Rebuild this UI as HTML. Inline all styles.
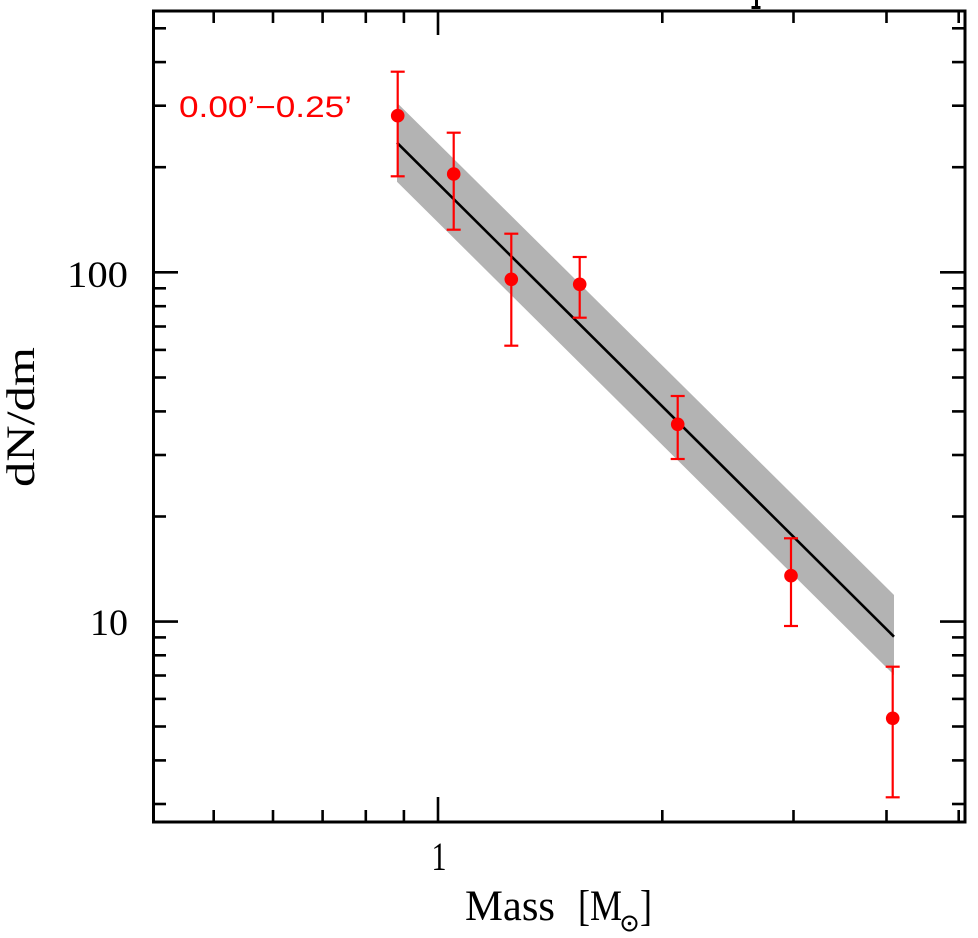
<!DOCTYPE html>
<html>
<head>
<meta charset="utf-8">
<style>
  html, body { margin:0; padding:0; background:#ffffff; }
  svg { display:block; }
</style>
</head>
<body>
<svg width="978" height="938" viewBox="0 0 978 938" xmlns="http://www.w3.org/2000/svg">
  <rect x="0" y="0" width="978" height="938" fill="#ffffff"/>

  <!-- title fragment at top -->
  <rect x="755" y="0" width="3" height="9" fill="#000"/>
  <rect x="751.5" y="6" width="9" height="3" fill="#000"/>

  <!-- band -->
  <polygon points="397,102.7 894,595 894,675 397,181.7" fill="#b3b3b3"/>
  <!-- fit line -->
  <line x1="397" y1="142.7" x2="894" y2="636.7" stroke="#000" stroke-width="2.6"/>

  <!-- error bars -->
  <g stroke="#ff0000" stroke-width="2.2" fill="none">
    <line x1="397.7" y1="71.7" x2="397.7" y2="176.3"/>
    <line x1="390.7" y1="71.7" x2="404.7" y2="71.7"/>
    <line x1="390.7" y1="176.3" x2="404.7" y2="176.3"/>

    <line x1="453.7" y1="132.7" x2="453.7" y2="229.7"/>
    <line x1="446.7" y1="132.7" x2="460.7" y2="132.7"/>
    <line x1="446.7" y1="229.7" x2="460.7" y2="229.7"/>

    <line x1="511.3" y1="233.7" x2="511.3" y2="345.7"/>
    <line x1="504.3" y1="233.7" x2="518.3" y2="233.7"/>
    <line x1="504.3" y1="345.7" x2="518.3" y2="345.7"/>

    <line x1="579.7" y1="257" x2="579.7" y2="317.7"/>
    <line x1="572.7" y1="257" x2="586.7" y2="257"/>
    <line x1="572.7" y1="317.7" x2="586.7" y2="317.7"/>

    <line x1="677.7" y1="396" x2="677.7" y2="459"/>
    <line x1="670.7" y1="396" x2="684.7" y2="396"/>
    <line x1="670.7" y1="459" x2="684.7" y2="459"/>

    <line x1="791" y1="538.3" x2="791" y2="626"/>
    <line x1="784" y1="538.3" x2="798" y2="538.3"/>
    <line x1="784" y1="626" x2="798" y2="626"/>

    <line x1="892.7" y1="666.7" x2="892.7" y2="797.3"/>
    <line x1="885.7" y1="666.7" x2="899.7" y2="666.7"/>
    <line x1="885.7" y1="797.3" x2="899.7" y2="797.3"/>
  </g>
  <g fill="#ff0000">
    <circle cx="397.7" cy="115.7" r="6.8"/>
    <circle cx="453.7" cy="174" r="6.8"/>
    <circle cx="511.3" cy="279.3" r="6.8"/>
    <circle cx="579.7" cy="284.3" r="6.8"/>
    <circle cx="677.7" cy="424.3" r="6.8"/>
    <circle cx="791" cy="575.7" r="6.8"/>
    <circle cx="892.7" cy="718.3" r="6.8"/>
  </g>

  <!-- ticks -->
  <g stroke="#000" stroke-width="2.6">
    <!-- bottom x ticks -->
    <line x1="213.7" y1="822" x2="213.7" y2="810"/>
    <line x1="273.0" y1="822" x2="273.0" y2="810"/>
    <line x1="322.6" y1="822" x2="322.6" y2="810"/>
    <line x1="365.8" y1="822" x2="365.8" y2="810"/>
    <line x1="403.9" y1="822" x2="403.9" y2="810"/>
    <line x1="438" y1="822" x2="438" y2="797"/>
    <line x1="662.3" y1="822" x2="662.3" y2="810"/>
    <line x1="793.5" y1="822" x2="793.5" y2="810"/>
    <line x1="886.5" y1="822" x2="886.5" y2="810"/>
    <line x1="958.7" y1="822" x2="958.7" y2="810"/>
    <!-- top x ticks -->
    <line x1="213.7" y1="11" x2="213.7" y2="23"/>
    <line x1="273.0" y1="11" x2="273.0" y2="23"/>
    <line x1="322.6" y1="11" x2="322.6" y2="23"/>
    <line x1="365.8" y1="11" x2="365.8" y2="23"/>
    <line x1="403.9" y1="11" x2="403.9" y2="23"/>
    <line x1="438" y1="11" x2="438" y2="35"/>
    <line x1="662.3" y1="11" x2="662.3" y2="23"/>
    <line x1="793.5" y1="11" x2="793.5" y2="23"/>
    <line x1="886.5" y1="11" x2="886.5" y2="23"/>
    <line x1="958.7" y1="11" x2="958.7" y2="23"/>

    <!-- left y ticks -->
    <line x1="153" y1="804.0" x2="166" y2="804.0"/>
    <line x1="153" y1="760.4" x2="166" y2="760.4"/>
    <line x1="153" y1="726.5" x2="166" y2="726.5"/>
    <line x1="153" y1="698.9" x2="166" y2="698.9"/>
    <line x1="153" y1="675.5" x2="166" y2="675.5"/>
    <line x1="153" y1="655.3" x2="166" y2="655.3"/>
    <line x1="153" y1="637.4" x2="166" y2="637.4"/>
    <line x1="153" y1="621.6" x2="178" y2="621.6"/>
    <line x1="153" y1="516.5" x2="166" y2="516.5"/>
    <line x1="153" y1="455.0" x2="166" y2="455.0"/>
    <line x1="153" y1="411.4" x2="166" y2="411.4"/>
    <line x1="153" y1="377.5" x2="166" y2="377.5"/>
    <line x1="153" y1="349.9" x2="166" y2="349.9"/>
    <line x1="153" y1="326.5" x2="166" y2="326.5"/>
    <line x1="153" y1="306.2" x2="166" y2="306.2"/>
    <line x1="153" y1="288.3" x2="166" y2="288.3"/>
    <line x1="153" y1="272.3" x2="178" y2="272.3"/>
    <line x1="153" y1="167.2" x2="166" y2="167.2"/>
    <line x1="153" y1="105.7" x2="166" y2="105.7"/>
    <line x1="153" y1="62.1" x2="166" y2="62.1"/>
    <line x1="153" y1="28.3" x2="166" y2="28.3"/>

    <!-- right y ticks -->
    <line x1="965" y1="804.0" x2="952" y2="804.0"/>
    <line x1="965" y1="760.4" x2="952" y2="760.4"/>
    <line x1="965" y1="726.5" x2="952" y2="726.5"/>
    <line x1="965" y1="698.9" x2="952" y2="698.9"/>
    <line x1="965" y1="675.5" x2="952" y2="675.5"/>
    <line x1="965" y1="655.3" x2="952" y2="655.3"/>
    <line x1="965" y1="637.4" x2="952" y2="637.4"/>
    <line x1="965" y1="621.6" x2="940" y2="621.6"/>
    <line x1="965" y1="516.5" x2="952" y2="516.5"/>
    <line x1="965" y1="455.0" x2="952" y2="455.0"/>
    <line x1="965" y1="411.4" x2="952" y2="411.4"/>
    <line x1="965" y1="377.5" x2="952" y2="377.5"/>
    <line x1="965" y1="349.9" x2="952" y2="349.9"/>
    <line x1="965" y1="326.5" x2="952" y2="326.5"/>
    <line x1="965" y1="306.2" x2="952" y2="306.2"/>
    <line x1="965" y1="288.3" x2="952" y2="288.3"/>
    <line x1="965" y1="272.3" x2="940" y2="272.3"/>
    <line x1="965" y1="167.2" x2="952" y2="167.2"/>
    <line x1="965" y1="105.7" x2="952" y2="105.7"/>
    <line x1="965" y1="62.1" x2="952" y2="62.1"/>
    <line x1="965" y1="28.3" x2="952" y2="28.3"/>
  </g>

  <!-- frame -->
  <rect x="153.5" y="11" width="811.5" height="811" fill="none" stroke="#000" stroke-width="3"/>

  <!-- tick labels -->
  <g font-family="'Liberation Serif', serif" fill="#000">
    <text x="67" y="287" font-size="37" textLength="61" lengthAdjust="spacingAndGlyphs">100</text>
    <text x="90" y="635" font-size="37" textLength="38" lengthAdjust="spacingAndGlyphs">10</text>
    <text x="431.5" y="870" font-size="40" textLength="15" lengthAdjust="spacingAndGlyphs">1</text>

    <!-- x label -->
    <text x="465" y="920" font-size="43" textLength="90" lengthAdjust="spacingAndGlyphs">Mass</text>
    <text x="578" y="920" font-size="43" textLength="44" lengthAdjust="spacingAndGlyphs">[M</text>
    <text x="640" y="920" font-size="43" textLength="12" lengthAdjust="spacingAndGlyphs">]</text>

    <!-- y label -->
    <text transform="translate(34,487) rotate(-90)" x="0" y="0" font-size="40" textLength="140" lengthAdjust="spacingAndGlyphs">dN/dm</text>
  </g>
  <!-- sun symbol -->
  <circle cx="629.5" cy="923.5" r="7" fill="none" stroke="#000" stroke-width="2"/>
  <circle cx="629.5" cy="923.5" r="1.8" fill="#000"/>

  <!-- red annotation -->
  <text x="179" y="117" font-family="'Liberation Sans', sans-serif" font-size="30" fill="#ff0000" textLength="173" lengthAdjust="spacingAndGlyphs">0.00’−0.25’</text>
</svg>
</body>
</html>
